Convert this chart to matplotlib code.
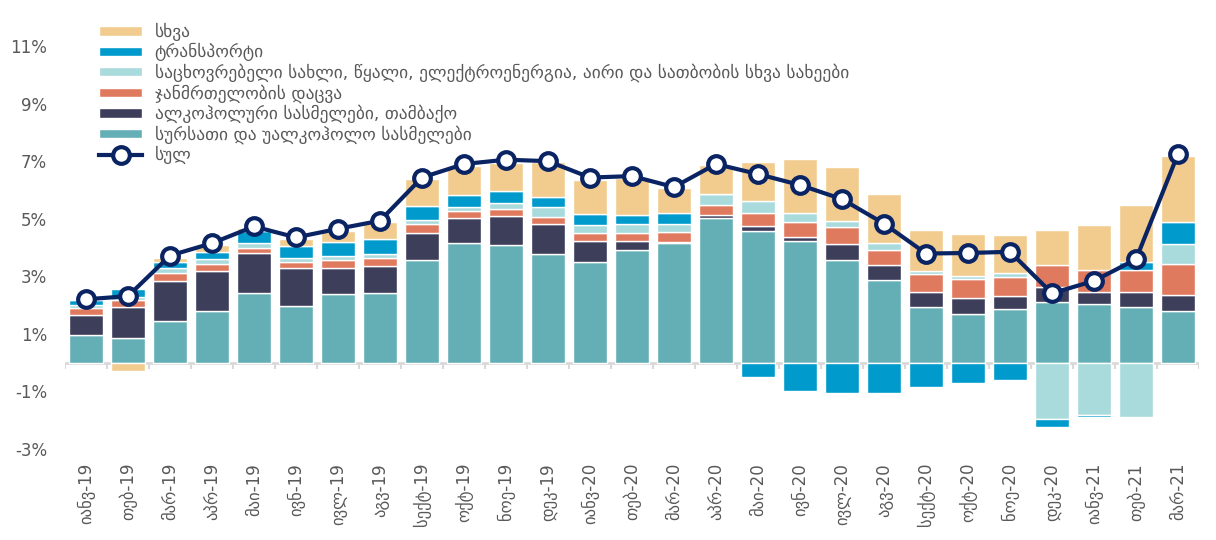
import numpy as np
import matplotlib
matplotlib.use("Agg")
import matplotlib.pyplot as plt

plt.rcParams['font.family'] = ['DejaVu Sans']

months = ["იანვ-19", "თებ-19", "მარ-19", "აპრ-19", "მაი-19", "ივნ-19", "ივლ-19", "აგვ-19",
          "სექტ-19", "ოქტ-19", "ნოე-19", "დეკ-19", "იანვ-20", "თებ-20", "მარ-20", "აპრ-20",
          "მაი-20", "ივნ-20", "ივლ-20", "აგვ-20", "სექტ-20", "ოქტ-20", "ნოე-20", "დეკ-20",
          "იანვ-21", "თებ-21", "მარ-21"]

food = [0.95, 0.87, 1.45, 1.80, 2.41, 1.97, 2.39, 2.43, 3.58, 4.14, 4.08, 3.77, 3.51, 3.93,
        4.17, 5.02, 4.58, 4.23, 3.57, 2.86, 1.94, 1.68, 1.86, 2.09, 2.03, 1.95, 1.80]
alcohol = [0.70, 1.05, 1.38, 1.38, 1.39, 1.31, 0.91, 0.91, 0.94, 0.89, 1.02, 1.03, 0.73, 0.29,
           0.03, 0.10, 0.17, 0.12, 0.55, 0.54, 0.53, 0.56, 0.44, 0.55, 0.44, 0.52, 0.55]
health = [0.24, 0.25, 0.27, 0.24, 0.20, 0.22, 0.25, 0.29, 0.28, 0.25, 0.25, 0.27, 0.26, 0.29,
          0.33, 0.36, 0.45, 0.55, 0.58, 0.50, 0.60, 0.66, 0.68, 0.75, 0.75, 0.76, 1.08]
housing = [0.12, 0.12, 0.20, 0.17, 0.17, 0.15, 0.15, 0.15, 0.17, 0.14, 0.20, 0.33, 0.27, 0.31,
           0.30, 0.37, 0.40, 0.30, 0.23, 0.25, 0.13, 0.12, 0.12, -1.95, -1.82, -1.89, 0.69]
transport = [0.17, 0.28, 0.20, 0.25, 0.40, 0.40, 0.50, 0.50, 0.48, 0.40, 0.40, 0.36, 0.40, 0.32,
             0.38, 0.00, -0.50, -1.00, -1.07, -1.04, -0.83, -0.70, -0.60, -0.27, -0.08, 0.27, 0.77]
other = [0.00, -0.30, 0.15, 0.25, 0.10, 0.25, 0.38, 0.60, 0.93, 1.00, 0.98, 1.20, 1.17, 1.28,
         0.87, 1.03, 1.37, 1.88, 1.85, 1.70, 1.40, 1.45, 1.33, 1.22, 1.56, 1.97, 2.30]
total = [2.20, 2.31, 3.72, 4.15, 4.73, 4.35, 4.65, 4.93, 6.43, 6.90, 7.05, 7.00, 6.43, 6.48,
         6.10, 6.90, 6.55, 6.17, 5.68, 4.83, 3.79, 3.81, 3.85, 2.41, 2.84, 3.59, 7.25]

names = ["სურსათი და უალკოჰოლო სასმელები",
         "ალკოჰოლური სასმელები, თამბაქო",
         "ჯანმრთელობის დაცვა",
         "საცხოვრებელი სახლი, წყალი, ელექტროენერგია, აირი და სათბობის სხვა სახეები",
         "ტრანსპორტი",
         "სხვა"]
total_name = "სულ"
yticks = [-3, -1, 1, 3, 5, 7, 9, 11]

series = [food, alcohol, health, housing, transport, other]
colors = ["#64AFB5", "#3C3E5A", "#E07A5F", "#A9DADC", "#009BCC", "#F2CB8E"]
line_color = "#0A2463"
text_color = "#595959"

fig = plt.figure(figsize=(12.16, 5.4), dpi=100)
ax = fig.add_axes([65 / 1216, (540 - 449) / 540, (1199 - 65) / 1216, (449 - 46) / 540])

x = np.arange(len(months))
pos_bottom = np.zeros(len(months))
neg_bottom = np.zeros(len(months))
handles = []
for vals, col, name in zip(series, colors, names):
    v = np.array(vals, dtype=float)
    bottom = np.where(v >= 0, pos_bottom, neg_bottom)
    b = ax.bar(x, v, bottom=bottom, width=0.79, color=col, edgecolor="white",
               linewidth=1.0, label=name, zorder=2)
    handles.append(b)
    pos_bottom = pos_bottom + np.where(v > 0, v, 0)
    neg_bottom = neg_bottom + np.where(v < 0, v, 0)

ln, = ax.plot(x, total, color=line_color, linewidth=3, marker="o", markersize=12,
              markerfacecolor="white", markeredgecolor=line_color, markeredgewidth=3,
              zorder=5, label=total_name)

# zero axis line with category tick marks
ax.axhline(0, color="#D9D9D9", linewidth=2, zorder=1)
bounds = np.arange(len(months) + 1) - 0.5
ax.vlines(bounds, -0.22, 0, color="#D9D9D9", linewidth=1.5, zorder=1)

ax.set_xlim(-0.5, len(months) - 0.5)
ax.set_ylim(-3, 11)
ax.set_yticks(yticks)
ax.set_yticklabels([f"{t}%" for t in yticks])
ax.set_xticks(x)
ax.set_xticklabels(months, rotation=90)
ax.tick_params(axis="x", length=0, pad=10, labelsize=12, labelcolor=text_color)
ax.tick_params(axis="y", length=0, pad=13, labelsize=12, labelcolor=text_color)
for s in ax.spines.values():
    s.set_visible(False)

leg_handles = handles[::-1] + [ln]
leg_labels = names[::-1] + [total_name]
leg = fig.legend(leg_handles, leg_labels, loc="upper left",
                 bbox_to_anchor=(99 / 1216, 1 - 23 / 540), frameon=False,
                 fontsize=12.5, labelcolor=text_color, handlelength=2.5,
                 handleheight=0.45, labelspacing=0.12, handletextpad=0.7,
                 borderaxespad=0, borderpad=0)

fig.savefig("out.png", dpi=100, facecolor="white")
